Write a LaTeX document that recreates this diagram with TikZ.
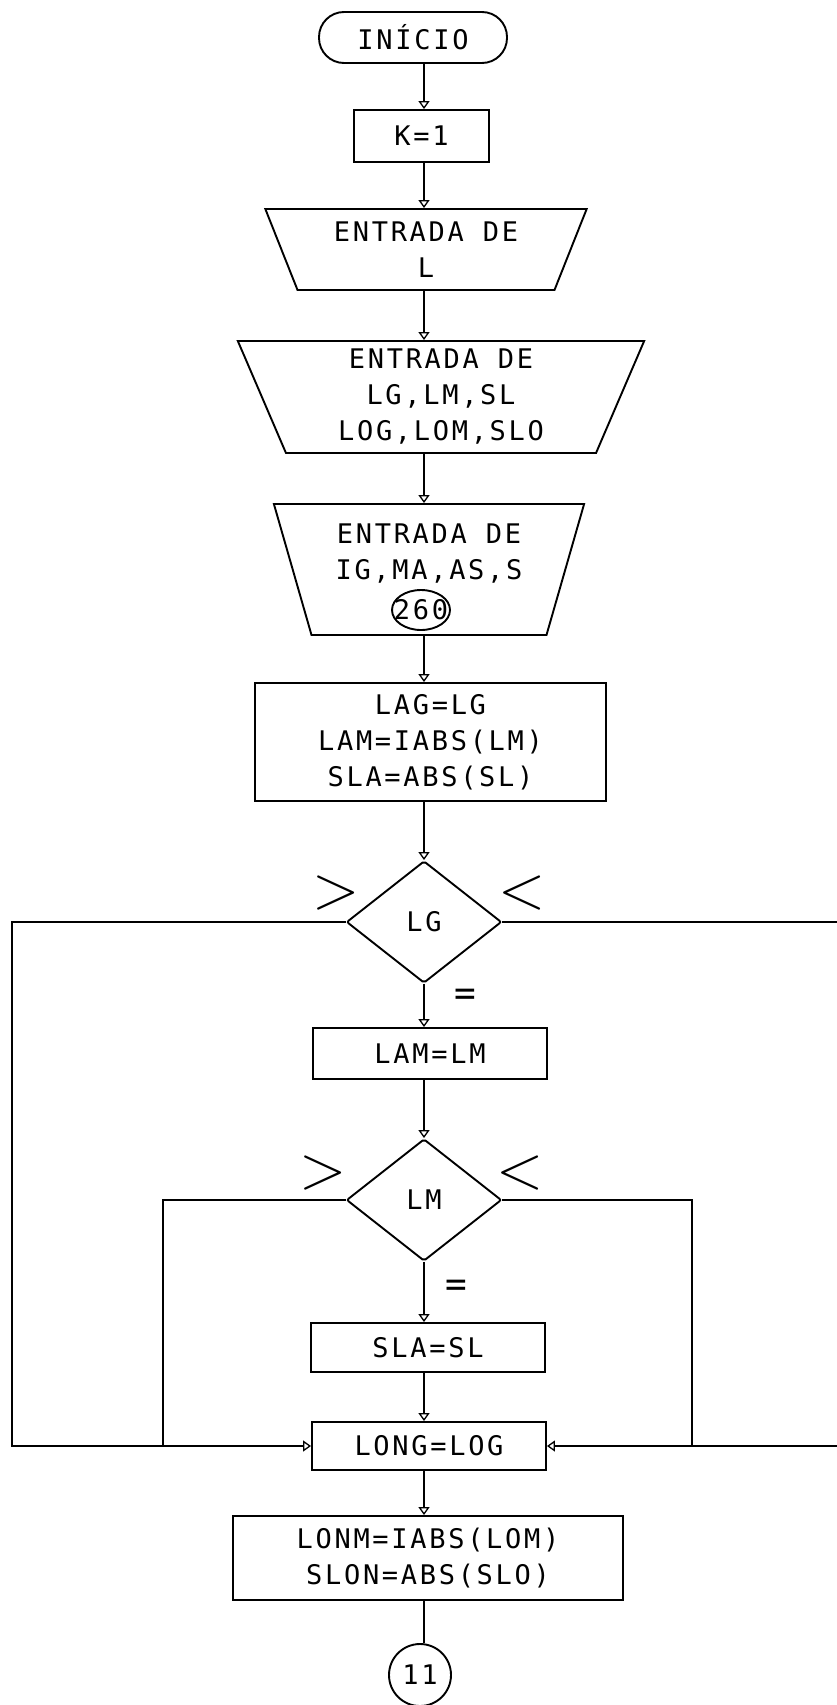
\documentclass[tikz,border=0pt]{standalone}
\usepackage{fontspec}
\newfontfamily\flowfont[LetterSpace=10]{DejaVu Sans Mono}
\usetikzlibrary{arrows.meta,calc,positioning,shapes.geometric}

\begin{document}
\begin{tikzpicture}[x=1pt, y=-1pt, line width=1.9pt,
  >={Triangle[open, length=8pt, width=11pt, line width=1.3pt]},
  font=\flowfont\fontsize{27}{36}\selectfont,
  termbox/.style={draw, rectangle, rounded corners=25pt, align=center, inner sep=0pt},
  procbox/.style={draw, rectangle, align=center, inner sep=0pt},
  readbox/.style={draw, trapezium, trapezium stretches=true, align=center, inner sep=0pt},
  testbox/.style={draw, diamond, rounded corners=2pt, inner sep=0pt, minimum width=155pt, minimum height=122pt},
  relsign/.style={font=\rmfamily\fontsize{62}{62}\selectfont, inner sep=0pt},
  eqsign/.style={font=\flowfont\fontsize{36}{36}\selectfont, inner sep=0pt},
  linkcircle/.style={draw, circle, inner sep=0pt, minimum size=62pt}]

\useasboundingbox (0,0) rectangle (837,1705);

% ============ MAIN COLUMN ============
\node[termbox, minimum width=188pt, minimum height=51pt] (inicio) at (413,37.5) {INÍCIO};
\node[procbox, minimum width=135pt, minimum height=52pt] (k1) at (421.5,136) {K=1};

% input blocks
\node[readbox, trapezium left angle=112.5, trapezium right angle=112.5,
  minimum width=322pt, minimum height=81pt] (inL) at (426,249.5) {ENTRADA DE\\L};
\node[readbox, trapezium left angle=108.5, trapezium right angle=108.5,
  minimum width=408pt, minimum height=112pt] (inLG) at (441,397) {ENTRADA DE\\LG,LM,SL\\LOG,LOM,SLO};
\node[readbox, trapezium left angle=108, trapezium right angle=108,
  minimum width=311pt, minimum height=131pt] (inIG) at (429,569.5) {ENTRADA DE\\IG,MA,AS,S\\\phantom{260}};
\node[draw, ellipse, inner sep=0pt, minimum width=58pt, minimum height=40pt] (c260) at (421,610) {\makebox[0pt]{260}};

\node[procbox, minimum width=351pt, minimum height=118pt] (lag) at (430.5,742) {LAG=LG\\LAM=IABS(LM)\\SLA=ABS(SL)};

% tests
\node[testbox] (lg) at (424,922) {LG};
\node[procbox, minimum width=234pt, minimum height=51pt] (lam) at (430,1053.5) {LAM=LM};
\node[testbox] (lm) at (424,1200) {LM};
\node[procbox, minimum width=234pt, minimum height=49pt] (sla) at (428,1347.5) {SLA=SL};
\node[procbox, minimum width=234pt, minimum height=48pt] (long) at (429,1446) {LONG=LOG};
\node[procbox, minimum width=390pt, minimum height=84pt] (lonm) at (428,1558) {LONM=IABS(LOM)\\SLON=ABS(SLO)};
\node[linkcircle] (c11) at (420,1675) {11};

% branch signs
\node[relsign] (lggt) at (336,893) {>};
\node[relsign] (lglt) at (522,893) {<};
\node[eqsign] (lgeq) at (465,997) {=};
\node[relsign] (lmgt) at (323,1173) {>};
\node[relsign] (lmlt) at (520,1173) {<};
\node[eqsign] (lmeq) at (456,1288) {=};

% ============ CONNECTORS ============
\coordinate (spine) at (424,0);
\coordinate (farleft) at (12,0);
\coordinate (farright) at (846,0);
\coordinate (nearleft) at (163,0);
\coordinate (nearright) at (692,0);

\draw[->] (inicio.south -| spine) -- (k1.north -| spine);
\draw[->] (k1.south -| spine) -- (inL.north -| spine);
\draw[->] (inL.south -| spine) -- (inLG.north -| spine);
\draw[->] (inLG.south -| spine) -- (inIG.north -| spine);
\draw[->] (inIG.south -| spine) -- (lag.north -| spine);
\draw[->] (lag.south -| spine) -- (lg.north);
\draw[->] (lg.south) -- (lam.north -| spine);
\draw[->] (lam.south -| spine) -- (lm.north);
\draw[->] (lm.south) -- (sla.north -| spine);
\draw[->] (sla.south -| spine) -- (long.north -| spine);
\draw[->] (long.south -| spine) -- (lonm.north -| spine);
\draw (lonm.south -| spine) -- (c11.north -| spine);

% loops round the tests
\draw[->] (lg.west) -| (farleft |- long.west) -- (long.west);
\draw[->] (lg.east) -| (farright |- long.east) -- (long.east);
\draw (lm.west) -| (nearleft |- long.west);
\draw (lm.east) -| (nearright |- long.east);

\end{tikzpicture}
\end{document}
